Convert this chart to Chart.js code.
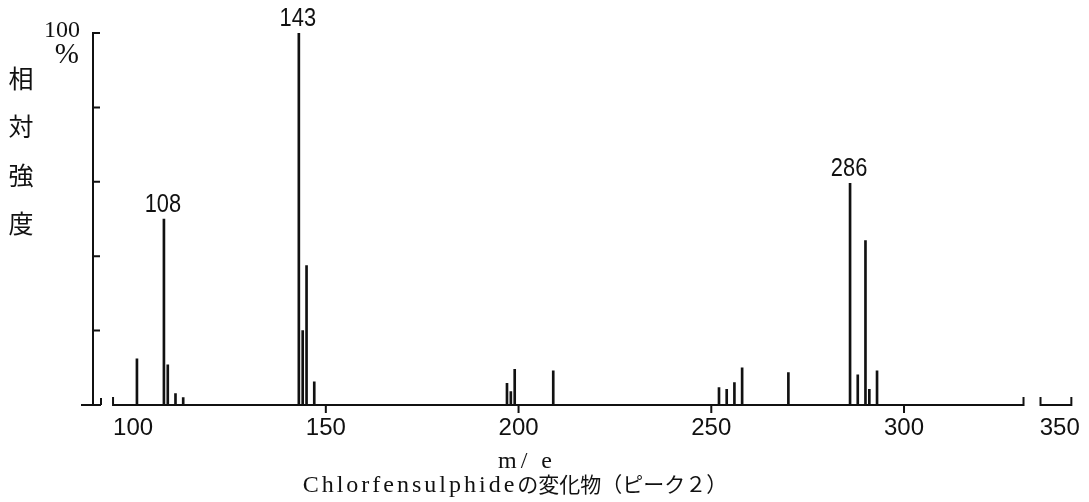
<!DOCTYPE html>
<html lang="ja">
<head>
<meta charset="utf-8">
<title>Chlorfensulphideの変化物（ピーク２）</title>
<script src="https://cdn.jsdelivr.net/npm/chart.js@4.4.1/dist/chart.umd.min.js"></script>
<style>
    html, body { margin: 0; padding: 0; background: #fff; }
    canvas { display: block; }
</style>
</head>
<body>
<canvas id="myChart" width="1089" height="502"></canvas>
<script>
// peaks: m/e and relative intensity (%)
var massNumbers = [101, 108, 109, 111, 113, 143, 144, 145, 147, 197, 198, 199, 209, 252, 254, 256, 258, 270, 286, 288, 290, 291, 293];
var intensities = [12.4, 50, 10.8, 3.1, 2.0, 100, 20, 37.5, 6.2, 5.8, 3.6, 9.6, 9.2, 4.7, 4.2, 6.0, 10.0, 8.7, 59.6, 8.1, 44.2, 4.2, 9.2];
var labelledPeaks = [108, 143, 286];

var xTicks = [100, 150, 200, 250, 300, 350];
var yTicks = [20, 40, 60, 80, 100];

var yTopLabel = ['100', '%'];
var yTitle = ['相', '対', '強', '度'];
var xTitle = 'm/ e';
var titleLatin = 'Chlorfensulphide';
var titleJa = 'の変化物（ピーク２）';

var INK = '#111';
var NUM_FONT = "'Liberation Sans', sans-serif";
var SERIF = "'Liberation Serif', serif";
var JA = "'Noto Sans CJK JP', sans-serif";

// linear axis with a cut between axisBreak.from and axisBreak.to
class BrokenAxis extends Chart.LinearScale {
    _brk() {
        var o = this.options.axisBreak;
        var span = (o.from - this.min) + (this.max - o.to);
        return { from: o.from, to: o.to, gap: o.gap, k: (this.width - o.gap) / span };
    }
    getPixelForValue(value) {
        if (value === null || value === undefined) return NaN;
        var b = this._brk();
        if (value <= b.from) return this.left + (value - this.min) * b.k;
        if (value >= b.to) return this.right - (this.max - value) * b.k;
        var a = this.left + (b.from - this.min) * b.k;
        return a + b.gap * (value - b.from) / (b.to - b.from);
    }
    getValueForPixel(pixel) {
        var b = this._brk();
        var a = this.left + (b.from - this.min) * b.k;
        if (pixel <= a) return this.min + (pixel - this.left) / b.k;
        if (pixel >= a + b.gap) return this.max - (this.right - pixel) / b.k;
        return b.from + (pixel - a) / b.gap * (b.to - b.from);
    }
}
BrokenAxis.id = 'brokenLinear';
BrokenAxis.defaults = Chart.LinearScale.defaults;
Chart.register(BrokenAxis);

// axis lines, tick marks and the cut marks on the base line
var paperAxes = {
    id: 'paperAxes',
    afterDatasetsDraw: function (chart, args, opts) {
        var ctx = chart.ctx;
        var xs = chart.scales.x, ys = chart.scales.y;
        var x0 = xs.left;
        var base = ys.getPixelForValue(0);
        ctx.save();
        ctx.strokeStyle = INK;
        ctx.lineWidth = 2;
        ctx.beginPath();
        // y axis
        ctx.moveTo(x0, ys.getPixelForValue(100) - 1);
        ctx.lineTo(x0, base);
        yTicks.forEach(function (v) {
            var y = ys.getPixelForValue(v);
            ctx.moveTo(x0, y);
            ctx.lineTo(x0 + 7, y);
        });
        // foot of the y axis
        ctx.moveTo(x0 - 12, base);
        ctx.lineTo(x0 + 8, base);
        ctx.moveTo(x0 + 8, base);
        ctx.lineTo(x0 + 8, base - 7);
        // base line pieces
        opts.segments.forEach(function (s) {
            var a = xs.getPixelForValue(s[0]), b = xs.getPixelForValue(s[1]);
            ctx.moveTo(a, base - 8);
            ctx.lineTo(a, base);
            ctx.lineTo(b, base);
            ctx.lineTo(b, base - 8);
        });
        // tick marks under the base line
        xTicks.slice(1, -1).forEach(function (v) {
            var px = xs.getPixelForValue(v);
            ctx.moveTo(px, base);
            ctx.lineTo(px, base + 8);
        });
        ctx.stroke();
        ctx.restore();
    }
};

// peak numbers, y axis caption and the captions under the chart
var paperText = {
    id: 'paperText',
    afterDraw: function (chart) {
        var ctx = chart.ctx;
        var meta = chart.getDatasetMeta(0);
        ctx.save();
        ctx.fillStyle = INK;

        // narrow figures over the main peaks
        ctx.font = '26px ' + NUM_FONT;
        ctx.textAlign = 'center';
        ctx.textBaseline = 'alphabetic';
        labelledPeaks.forEach(function (m) {
            var i = massNumbers.indexOf(m);
            var bar = meta.data[i];
            ctx.save();
            ctx.translate(bar.x - 1, bar.y - 7);
            ctx.scale(0.84, 1);
            ctx.fillText(String(massNumbers[i]), 0, 0);
            ctx.restore();
        });

        ctx.textAlign = 'right';
        ctx.font = '24px ' + SERIF;
        ctx.fillText(yTopLabel[0], 80, 37);
        ctx.font = '29px ' + SERIF;
        ctx.fillText(yTopLabel[1], 79, 63);

        ctx.textAlign = 'center';
        ctx.textBaseline = 'middle';
        ctx.font = '25px ' + JA;
        yTitle.forEach(function (c, i) {
            ctx.fillText(c, 21, 78 + i * 48.5);
        });

        ctx.textAlign = 'left';
        ctx.textBaseline = 'alphabetic';
        ctx.font = '24px ' + SERIF;
        ctx.letterSpacing = '4px';
        var w = ctx.measureText(xTitle).width;
        ctx.fillText(xTitle, 527 - w / 2, 468);

        ctx.letterSpacing = '3px';
        var w1 = ctx.measureText(titleLatin).width;
        ctx.letterSpacing = '0px';
        ctx.font = '21px ' + JA;
        var w2 = ctx.measureText(titleJa).width;
        var start = 515 - (w1 + w2) / 2;
        ctx.font = '24px ' + SERIF;
        ctx.letterSpacing = '3px';
        ctx.fillText(titleLatin, start, 492);
        ctx.letterSpacing = '0px';
        ctx.font = '21px ' + JA;
        ctx.fillText(titleJa, start + w1, 492);
        ctx.restore();
    }
};

var ctx = document.getElementById('myChart');

var myChart = new Chart(ctx, {
    type: 'bar',
    data: {
        datasets: [{
            data: massNumbers.map(function (m, i) { return { x: m, y: intensities[i] }; }),
            backgroundColor: INK,
            borderWidth: 0,
            barThickness: 2
        }]
    },
    options: {
        responsive: false,
        devicePixelRatio: 1,
        animation: false,
        layout: { padding: { left: 93, right: 14, top: 33, bottom: 0 } },
        plugins: {
            legend: { display: false },
            tooltip: { enabled: false },
            paperAxes: { segments: [[94.8, 331], [345, 353]] }
        },
        scales: {
            x: {
                type: 'brokenLinear',
                min: 89.6,
                max: 353.5,
                offset: false,
                axisBreak: { from: 331, to: 345, gap: 17 },
                afterBuildTicks: function (scale) {
                    scale.ticks = xTicks.map(function (v) { return { value: v }; });
                },
                afterFit: function (scale) { scale.height = 97; },
                grid: { display: false, drawTicks: false },
                border: { display: false },
                ticks: {
                    autoSkip: false,
                    maxRotation: 0,
                    padding: 9,
                    color: INK,
                    font: { family: NUM_FONT, size: 24 }
                }
            },
            y: {
                display: false,
                min: 0,
                max: 100
            }
        }
    },
    plugins: [paperAxes, paperText]
});
</script>
</body>
</html>
